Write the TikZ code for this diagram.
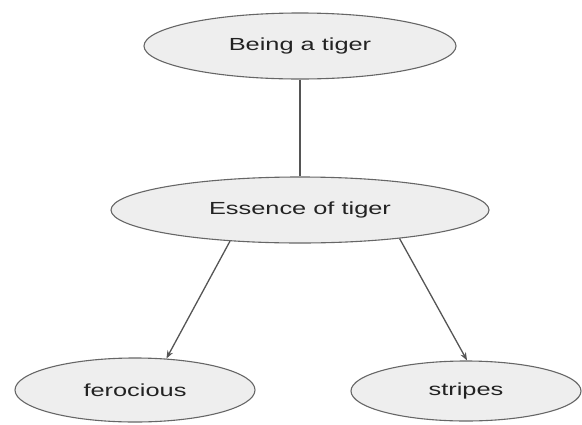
\documentclass[tikz,border=0pt]{standalone}
\usepackage{fontspec}
\setmainfont[FakeStretch=1.45]{Liberation Sans}
\usetikzlibrary{shapes.geometric,arrows.meta}
\definecolor{bubblefill}{HTML}{EEEEEE}
\definecolor{bubbleline}{HTML}{666666}
\definecolor{linkline}{HTML}{555555}
\definecolor{labeltext}{HTML}{222222}
\begin{document}
\begin{tikzpicture}[x=1pt,y=-1pt,
  bubble/.style={ellipse, draw=bubbleline, fill=bubblefill, line width=1.1pt,
    inner sep=0pt, text=labeltext, font=\fontsize{17.5}{20}\selectfont},
  link/.style={draw=linkline, line width=1.3pt},
  linkarrow/.style={link, -{Stealth[length=8pt,width=6pt]}}]
\useasboundingbox (0,0) rectangle (582,424);
\node[bubble, minimum width=312pt, minimum height=66pt] (being) at (300,46) {Being a tiger};
\node[bubble, minimum width=378pt, minimum height=66pt] (ess) at (300,210) {Essence of tiger};
\node[bubble, minimum width=240pt, minimum height=64pt] (fer) at (135,390) {ferocious};
\node[bubble, minimum width=230pt, minimum height=60pt] (str) at (466,391) {stripes};
\draw[link] (being.south) -- (ess.north);
\draw[linkarrow] (ess.-156) -- (fer.45);
\draw[linkarrow] (ess.-16) -- (str.88);
\end{tikzpicture}
\end{document}
